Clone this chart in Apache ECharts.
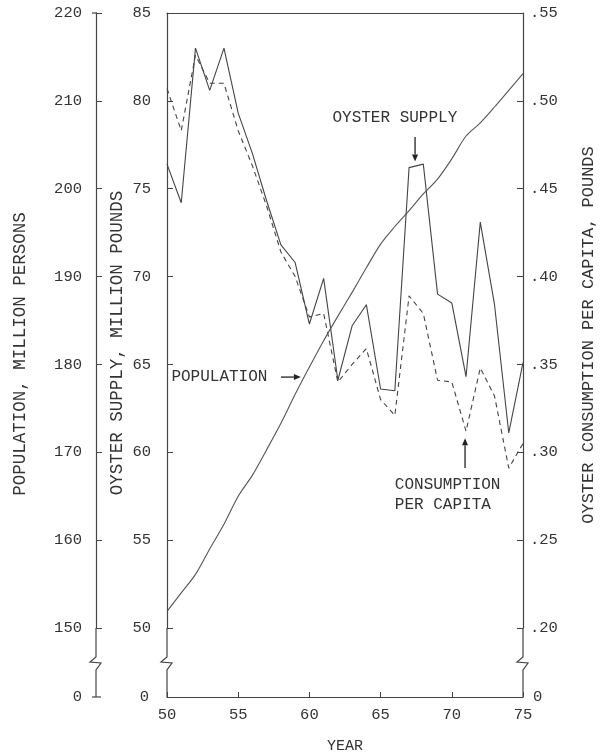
<!DOCTYPE html>
<html><head><meta charset="utf-8">
<script src="https://cdn.jsdelivr.net/npm/echarts@6/dist/echarts.min.js"></script>
<style>html,body{margin:0;padding:0;background:#fff}#c{width:605px;height:755px}</style>
</head><body><div id="c"></div>
<script>
// ---- data ----
const years = [50,51,52,53,54,55,56,57,58,59,60,61,62,63,64,65,66,67,68,69,70,71,72,73,74,75];
const oysterSupply = [76.4,74.2,83.0,80.6,83.0,79.3,77.0,74.3,71.8,70.8,67.3,69.9,64.1,67.2,68.4,63.6,63.5,76.2,76.4,69.0,68.5,64.3,73.1,68.4,61.1,65.1];
const consumptionPerCapita = [0.507,0.483,0.526,0.510,0.510,0.483,0.463,0.440,0.414,0.400,0.377,0.379,0.340,0.350,0.359,0.330,0.321,0.389,0.379,0.341,0.340,0.312,0.348,0.332,0.291,0.305];
const population = [151.9,154.0,156.1,159.0,161.8,165.0,167.4,170.3,173.3,176.6,179.7,182.7,185.5,188.2,191.0,193.7,195.7,197.5,199.4,201.1,203.4,206.0,207.5,209.3,211.2,213.1];
// axis ranges / tick labels
const yearTicks = [50,55,60,65,70,75];
const supplyTicks = [50,55,60,65,70,75,80,85];
const populationTicks = [150,160,170,180,190,200,210,220];
const consumptionTicks = [0.20,0.25,0.30,0.35,0.40,0.45,0.50,0.55];

const FONT = "'Liberation Mono', 'DejaVu Sans Mono', monospace";
const INK = '#333';
const LINE = '#444';

const chart = echarts.init(document.getElementById('c'), null, {renderer:'canvas'});
const pairs = arr => years.map((y,i)=>[y, arr[i]]);
const lab = (extra) => Object.assign({fontFamily:FONT, fontSize:15.5, color:INK}, extra||{});
const axLine = {show:true, lineStyle:{color:LINE, width:1.2}};
const POP_OFFSET = 71;

const option = {
  animation:false,
  backgroundColor:'#fff',
  grid:[
    {left:167, right:82, top:13, height:615},
    {left:167, right:82, top:628, height:69}
  ],
  xAxis:[
    {type:'value', gridIndex:0, position:'top', min:yearTicks[0], max:yearTicks[yearTicks.length-1], interval:5,
     axisLine:axLine, axisTick:{show:false}, axisLabel:{show:false}, splitLine:{show:false}},
    {type:'value', gridIndex:1, position:'bottom', min:yearTicks[0], max:yearTicks[yearTicks.length-1], interval:5,
     axisLine:axLine, axisTick:{show:true, inside:true, length:5, lineStyle:{color:LINE}},
     axisLabel:lab({margin:10}), splitLine:{show:false},
     name:'YEAR', nameLocation:'middle', nameGap:42, nameTextStyle:lab({fontSize:15})}
  ],
  yAxis:[
    {type:'value', gridIndex:0, position:'left', min:supplyTicks[0], max:supplyTicks[supplyTicks.length-1], interval:5,
     axisLine:axLine, axisTick:{show:true, inside:true, length:6, lineStyle:{color:LINE}},
     axisLabel:lab({margin:16}), splitLine:{show:false}},
    {type:'value', gridIndex:0, position:'left', offset:POP_OFFSET, min:populationTicks[0], max:populationTicks[populationTicks.length-1], interval:10,
     axisLine:axLine, axisTick:{show:true, inside:true, length:6, lineStyle:{color:LINE}},
     axisLabel:lab({margin:14}), splitLine:{show:false}},
    {type:'value', gridIndex:0, position:'right', min:consumptionTicks[0], max:consumptionTicks[consumptionTicks.length-1], interval:0.05,
     axisLine:axLine, axisTick:{show:true, inside:true, length:6, lineStyle:{color:LINE}},
     axisLabel:lab({margin:7, formatter:v=>v.toFixed(2).replace(/^0/,'')}), splitLine:{show:false}},
    // broken lower parts (0 only)
    {type:'value', gridIndex:1, position:'left', min:0, max:1, interval:1,
     axisLine:{show:false}, axisTick:{show:false}, splitLine:{show:false},
     axisLabel:lab({margin:18, formatter:v=>v===0?'0':''})},
    {type:'value', gridIndex:1, position:'left', offset:POP_OFFSET, min:0, max:1, interval:1,
     axisLine:{show:false}, axisTick:{show:false}, splitLine:{show:false},
     axisLabel:lab({margin:14, formatter:v=>v===0?'0':''})},
    {type:'value', gridIndex:1, position:'right', min:0, max:1, interval:1,
     axisLine:{show:false}, axisTick:{show:false}, splitLine:{show:false},
     axisLabel:lab({margin:10, formatter:v=>v===0?'0':''})}
  ],
  series:[
    {name:'Oyster supply', type:'line', xAxisIndex:0, yAxisIndex:0, data:pairs(oysterSupply),
     showSymbol:false, lineStyle:{color:LINE, width:1.1}},
    {name:'Consumption per capita', type:'line', xAxisIndex:0, yAxisIndex:2, data:pairs(consumptionPerCapita),
     showSymbol:false, lineStyle:{color:LINE, width:1.1, type:[5,4]}},
    {name:'Population', type:'line', xAxisIndex:0, yAxisIndex:1, data:pairs(population),
     showSymbol:false, smooth:0.3, lineStyle:{color:'#555', width:1.1}}
  ]
};
chart.setOption(option);

// ---- decorations: axis breaks, titles, annotations ----
const P = (x, v) => chart.convertToPixel({xAxisIndex:0, yAxisIndex:0}, [x, v]);
const xSupply = chart.convertToPixel({xAxisIndex:1}, 50);
const xRight = chart.convertToPixel({xAxisIndex:1}, 75);
const xPop = xSupply - POP_OFFSET;
const yTop = chart.convertToPixel({yAxisIndex:3}, 1);
const yBot = chart.convertToPixel({yAxisIndex:3}, 0);
const z = yTop + 29;
const g = [];
const stroke = {stroke:LINE, lineWidth:1.2, fill:null};
[xSupply, xPop, xRight].forEach(x => {
  g.push({type:'polyline', shape:{points:[[x,yTop],[x,z],[x-6,z+5],[x+5,z+6],[x,z+13],[x,yBot]]}, style:stroke, silent:true});
});
// population axis end caps
g.push({type:'line', shape:{x1:xPop-4, y1:yBot, x2:xPop+5, y2:yBot}, style:stroke});
g.push({type:'line', shape:{x1:xPop-4, y1:13, x2:xPop+1, y2:13}, style:stroke});

const txt = (x, y, s, rot, align, size) => ({type:'text', x, y, rotation:rot||0,
  style:{text:s, fontFamily:FONT, fontSize:size||16, fill:INK, align:align||'center', verticalAlign:'middle'}});
// axis titles
g.push(txt(20, 354, 'POPULATION, MILLION PERSONS', Math.PI/2, 'center', 17.5));
g.push(txt(117, 343, 'OYSTER SUPPLY, MILLION POUNDS', Math.PI/2, 'center', 17.5));
g.push(txt(588, 335, 'OYSTER CONSUMPTION PER CAPITA, POUNDS', Math.PI/2, 'center', 17));

// annotations (anchored in year / supply units)
function arrow(a, b) {
  const [x1,y1] = a, [x2,y2] = b;
  const ang = Math.atan2(y2-y1, x2-x1), L = 7, W = 3;
  const bx = x2 - L*Math.cos(ang), by = y2 - L*Math.sin(ang);
  g.push({type:'line', shape:{x1, y1, x2:bx, y2:by}, style:{stroke:'#222', lineWidth:1.3}});
  g.push({type:'polygon', shape:{points:[[x2,y2],[bx - W*Math.sin(ang), by + W*Math.cos(ang)],[bx + W*Math.sin(ang), by - W*Math.cos(ang)]]},
          style:{fill:'#222'}});
}
let p = P(66.0, 79.03); g.push(txt(p[0], p[1], 'OYSTER SUPPLY'));
arrow(P(67.42, 77.94), P(67.42, 76.55));
p = P(57.05, 64.28); g.push(txt(p[0], p[1], 'POPULATION', 0, 'right'));
arrow(P(58.0, 64.28), P(59.4, 64.28));
p = P(66.0, 58.14); g.push(txt(p[0], p[1], 'CONSUMPTION', 0, 'left'));
p = P(66.0, 57.0); g.push(txt(p[0], p[1], 'PER CAPITA', 0, 'left'));
arrow(P(70.93, 59.1), P(70.93, 60.8));

chart.setOption({graphic:g});
</script></body></html>
